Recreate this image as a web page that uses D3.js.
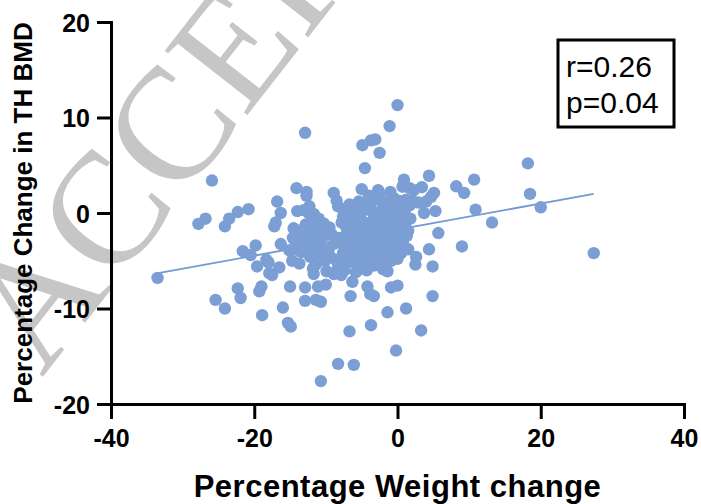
<!DOCTYPE html>
<html>
<head>
<meta charset="utf-8">
<script src="https://cdn.jsdelivr.net/npm/d3@7"></script>
<style>
  body { margin: 0; background: #fff; }
  svg { display: block; }
</style>
</head>
<body>
<svg></svg>
<script>
// values: percentage weight change (x) vs percentage change in TH BMD (y)
var weightChange = [
  -33.5, -25.9, -27.8, -26.8, -24.1, -23.5, -22.3, -20.8, -25.4, -24.1,
  -22.3, -21.9, -21.6, -20.5, -19.8, -19.6, -18.9, -19.3, -19.0, -18.0,
  -17.5, -16.5, -16.8, -16.3, -17.2, -17.0, -16.3, -16.0, -15.3, -14.9,
  -15.0, -14.5, -14.1, -12.7, -12.7, -14.0, -13.1, -12.4, -12.9, -12.9,
  -12.9, -11.7, -11.1, -10.0, -11.4, -10.7, -10.7, -8.3, -6.1, -6.7,
  -6.55, -6.3, -3.7, -4.2, -3.8, -3.3, -1.4, -0.2, 1.2, -0.9,
  0.0, -1.4, 3.3, 4.9, 4.9, 2.5, 2.6, 4.4, 5.7, 9.0,
  13.2, 10.9, 10.7, 8.2, 9.3, 18.2, 18.5, 20.0, 27.4, 4.4,
  5.1, 3.4, 0.9, 2.3, 3.7, 5.3, 0.0, -1.1, -4.9, -3.7,
  -3.1, -2.5, -4.55, -5.0, -2.7, -1.0, -8.9, -8.5, -9.5, -14.2,
  -14.7, -11.9, -11.1, -7.4, -8.3, -8.9, -11.7, -11.0, -7.6, -6.4,
  0.0, 0.75, 1.5, 1.06, 0.1, 2.0, 2.9, -9.9, 1.7, 4.7,
  4.0, 0.7, -4.9, -12.3, -8.3, -7.6, -7.2, -14.4, -13.2, -10.9,
  -15.1, -11.8, -7.85, 1.2, 0.3, 1.7, 1.2, -18.3, -17.9,
  // dense centre
  -14.6, -13.8, -13.0, -12.4, -11.6, -10.8, -10.2, -9.6, -13.4, -12.2,
  -11.0, -10.1, -9.4, -8.8, -12.8, -11.9, -10.5, -9.2, -8.6, -11.4,
  -13.7, -7.8, -7.2, -6.9, -6.5, -6.2, -5.9, -5.6, -5.3, -5.0,
  -4.8, -4.5, -4.2, -3.9, -3.6, -3.4, -3.1, -2.8, -2.5, -2.3,
  -2.0, -1.7, -1.4, -1.2, -0.9, -0.6, -0.3, 0.1, 0.4, 0.7,
  -7.5, -6.7, -5.4, -4.1, -2.9, -1.8, -0.5, 0.6, -6.0, -4.9,
  -3.7, -2.6, -1.5, -0.4, -5.2, -3.3, -1.9, -7.0, -6.1, -4.6,
  -3.3, -2.0, -0.9, -7.9, -8.0, -7.4, -5.8, -4.3, -3.0, -1.1,
  0.5, 1.3, 1.0, 1.8, -2.2, -1.0, -3.8, -5.7, -6.6, -4.0,
  -2.5, -0.6, -7.0, -6.3, -5.5, -4.7, -4.4, -3.5, -3.0, -2.7,
  -2.1, -1.6, -1.2, -0.8, -0.2, 0.3, 0.9, -5.0, -6.8, -7.6,
  -4.0, -1.9, -0.5, -3.9, -2.4, -6.4, -9.8, -12.9, -11.2, -10.3,
  -13.5, -8.2, 1.5, -0.1, -5.9
];
var bmdChange = [
  -6.8, 3.4, -1.15, -0.6, -1.4, -0.6, 0.1, 0.4, -9.1, -10.0,
  -7.9, -8.9, -4.0, -4.4, -3.4, -5.6, -10.7, -8.2, -7.7, -5.2,
  -6.5, -5.7, 1.2, 0.0, -1.4, -1.0, -3.25, -9.9, -11.5, -11.9,
  -7.7, -1.6, 2.6, 2.2, 1.8, 0.2, 0.3, 0.0, 8.4, -7.8,
  -9.2, -6.4, -7.7, -7.5, -9.1, -9.3, -17.6, -15.8, -15.9, -12.4,
  -8.7, -7.2, -11.75, -7.7, -8.5, -8.7, -10.4, -14.4, -10.0, -7.8,
  -7.6, -6.1, -12.3, -8.7, -5.6, -5.4, -4.6, -3.8, -2.1, -3.5,
  -1.0, 0.35, 3.5, 2.8, 2.1, 5.2, 2.0, 0.6, -4.2, 3.9,
  2.1, 2.7, 3.5, 2.4, 0.0, 0.2, 11.3, 9.1, 7.1, 7.6,
  7.7, 6.3, 4.7, 2.5, 2.4, 2.2, 2.1, 1.3, -1.5, -3.8,
  -5.0, -2.0, -1.85, -3.6, -5.7, -6.4, -0.1, -0.6, 0.4, 0.6,
  -4.8, -2.9, -1.85, -0.8, 1.3, 1.3, 1.1, -6.1, 2.6, 1.7,
  1.2, 2.75, 0.5, 0.7, 0.7, -0.4, -1.4, -2.8, -2.5, -2.1,
  -3.9, -5.8, -6.5, -1.8, -0.7, 0.8, 1.4, -4.9, -6.3,
  // dense centre
  -2.6, -3.0, -2.2, -3.4, -2.8, -3.3, -2.4, -3.8, -4.1, -4.6,
  -4.2, -5.0, -4.6, -3.2, -1.2, -0.9, -1.6, -2.2, -4.9, -5.4,
  -5.3, -1.0, -2.3, -3.8, -5.1, -0.4, -1.8, -3.1, -4.4, -5.6,
  -0.9, -2.4, -3.6, -4.9, 0.3, -1.5, -2.9, -4.2, -5.3, -0.5,
  -2.0, -3.4, -4.6, 0.8, -1.1, -2.5, -3.8, -0.2, -1.6, -3.1,
  0.2, 0.9, 1.2, 0.9, 1.4, 1.1, 0.6, 0.9, -2.6, -3.3,
  -2.1, -2.6, -2.2, -0.3, -0.2, -0.6, -0.7, -4.6, -4.0, -4.6,
  -5.5, -5.9, -5.0, -3.0, -5.5, -6.0, -6.2, -6.0, -4.0, -3.8,
  -4.2, -2.4, 0.2, -0.6, 0.3, -0.3, -1.2, 0.4, -1.5, 1.8,
  1.9, 1.6, -0.3, -2.9, -1.2, -4.0, -1.5, -3.4, -0.9, -3.6,
  -4.8, -1.4, -2.9, 0.1, -2.0, -3.4, -1.2, -2.1, -2.0, -4.2,
  -5.3, -4.0, -4.4, 0.3, -1.4, -3.5, -4.3, -3.7, -3.9, -1.1,
  -1.8, -2.6, -3.8, 1.0, -5.0
];
// regression line end points
var fitX = [-33.4, 27.4];
var fitY = [-6.3, 2.0];

var xTicks = [-40, -20, 0, 20, 40];
var yTicks = [-20, -10, 0, 10, 20];
var statLines = ["r=0.26", "p=0.04"];

var width = 701, height = 504;
var margin = {top: 22, right: 17, bottom: 100, left: 111};

var svg = d3.select("svg")
    .attr("width", width)
    .attr("height", height);

// faint "ACCEPTED MANUSCRIPT" watermark behind the chart
svg.append("text")
    .attr("transform", "translate(42,378) rotate(-52)")
    .attr("font-family", "'Liberation Serif', 'Times New Roman', serif")
    .attr("font-size", 160)
    .attr("fill", "#c6c6c6")
    .text("ACCEPTED MANUSCRIPT");

var x = d3.scaleLinear().domain([-40, 40]).range([margin.left, width - margin.right]);
var y = d3.scaleLinear().domain([-20, 20]).range([height - margin.bottom, margin.top]);

var font = "Arial, 'Liberation Sans', sans-serif";

// fit line (under the dots)
svg.append("line")
    .attr("x1", x(fitX[0])).attr("y1", y(fitY[0]))
    .attr("x2", x(fitX[1])).attr("y2", y(fitY[1]))
    .attr("stroke", "#729ad3")
    .attr("stroke-width", 1.8);

// points
svg.append("g")
  .selectAll("circle")
  .data(weightChange)
  .enter()
  .append("circle")
    .attr("cx", function(d) { return x(d); })
    .attr("cy", function(d, i) { return y(bmdChange[i]); })
    .attr("r", 6.2)
    .attr("fill", "#7b9fd5");

// axes
var xAxis = svg.append("g")
    .attr("transform", "translate(0," + y(-20) + ")")
    .call(d3.axisBottom(x).tickValues(xTicks).tickSize(15).tickSizeOuter(0).tickPadding(8));
var yAxis = svg.append("g")
    .attr("transform", "translate(" + x(-40) + ",0)")
    .call(d3.axisLeft(y).tickValues(yTicks).tickSize(14).tickSizeOuter(0).tickPadding(7));

[xAxis, yAxis].forEach(function(g) {
  g.select(".domain").attr("stroke", "#000").attr("stroke-width", 3).attr("stroke-linecap", "square");
  g.selectAll(".tick line").attr("stroke", "#000").attr("stroke-width", 3);
  g.selectAll(".tick text")
    .attr("fill", "#000")
    .attr("font-family", font)
    .attr("font-weight", "bold")
    .attr("font-size", 25)
    .text(function(d) { return d; });
});
xAxis.selectAll(".tick text").attr("dy", "0.78em");
yAxis.selectAll(".tick text").attr("dy", "0.36em");

// axis titles
svg.append("text")
    .attr("x", (x(-40) + x(40)) / 2)
    .attr("y", 497)
    .attr("text-anchor", "middle")
    .attr("font-family", font)
    .attr("font-weight", "bold")
    .attr("font-size", 31)
    .attr("letter-spacing", 0.5)
    .text("Percentage Weight change");

svg.append("text")
    .attr("transform", "translate(32," + ((y(-20) + y(20)) / 2) + ") rotate(-90)")
    .attr("text-anchor", "middle")
    .attr("font-family", font)
    .attr("font-weight", "bold")
    .attr("font-size", 26)
    .text("Percentage Change in TH BMD");

// stats box
svg.append("rect")
    .attr("x", 558).attr("y", 40)
    .attr("width", 116).attr("height", 87)
    .attr("fill", "#fff")
    .attr("stroke", "#000")
    .attr("stroke-width", 3);

svg.append("g")
  .selectAll("text")
  .data(statLines)
  .enter()
  .append("text")
    .attr("x", 566)
    .attr("y", function(d, i) { return 77 + i * 36; })
    .attr("font-family", font)
    .attr("font-size", 30)
    .text(function(d) { return d; });
</script>
</body>
</html>
